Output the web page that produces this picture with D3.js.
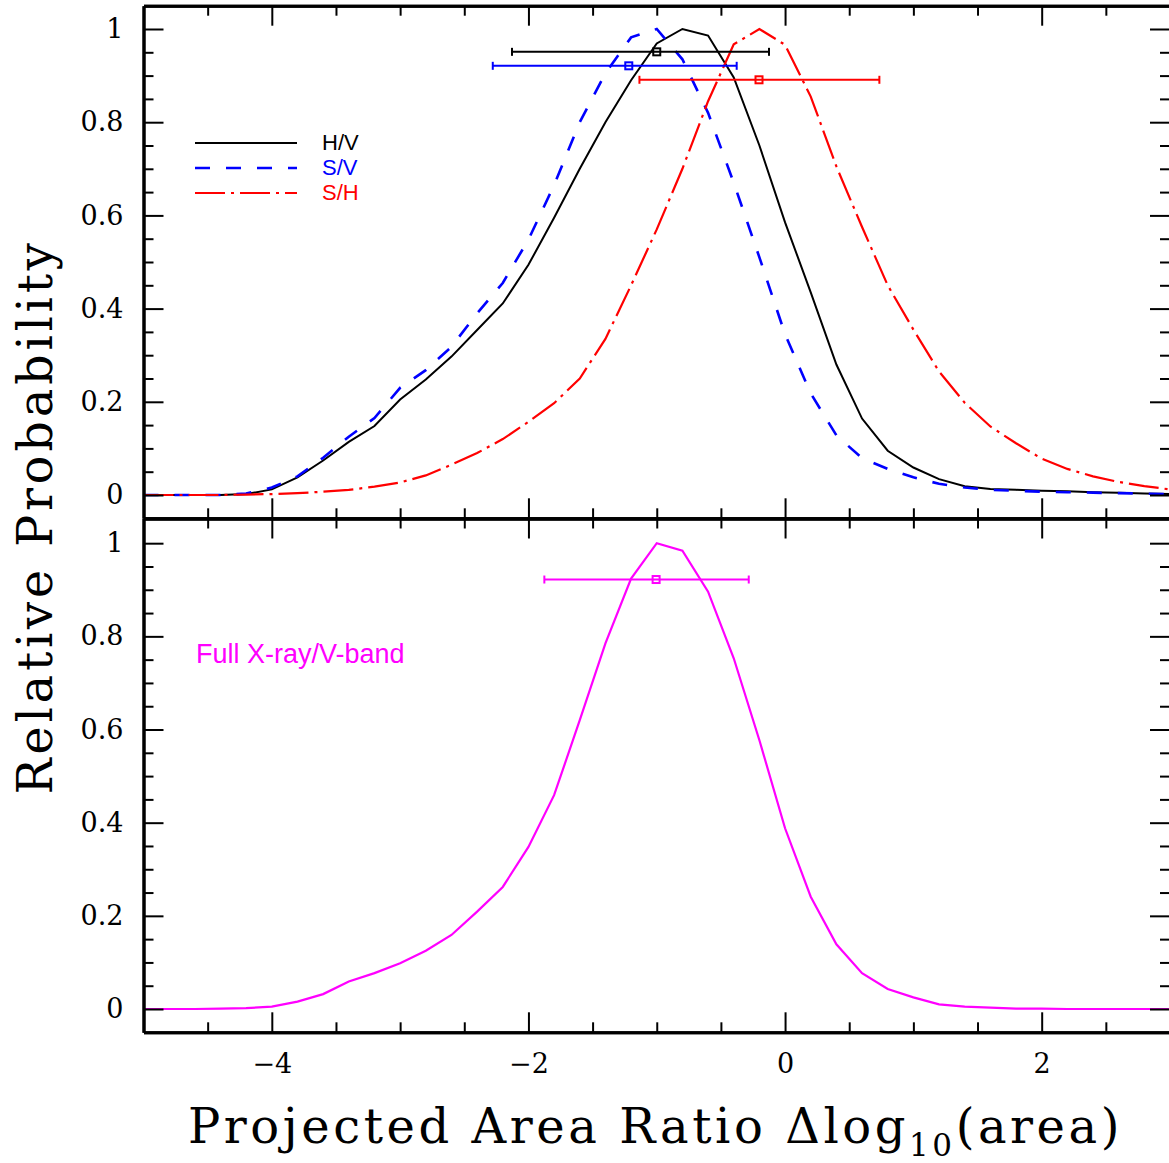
<!DOCTYPE html>
<html>
<head>
<meta charset="utf-8">
<script src="https://cdn.jsdelivr.net/npm/d3@7"></script>
<style>
  body { margin: 0; background: #fff; }
  svg { display: block; }
</style>
</head>
<body>
<script>
// sample grid (log area ratio) and the four probability curves
const xVals = [-5.0, -4.8, -4.6, -4.4, -4.2, -4.0, -3.8, -3.6, -3.4, -3.2, -3.0, -2.8, -2.6, -2.4, -2.2, -2.0,
    -1.8, -1.6, -1.4, -1.2, -1.0, -0.8, -0.6, -0.4, -0.2, 0.0, 0.2, 0.4, 0.6, 0.8, 1.0, 1.2, 1.4, 1.6, 1.8,
    2.0, 2.2, 2.4, 2.6, 2.8, 3.0];

const hvVals = [0, 0, 0, 0, 0.002, 0.012, 0.038, 0.074, 0.114, 0.148, 0.205, 0.248, 0.297, 0.354, 0.411, 0.494,
    0.595, 0.70, 0.80, 0.89, 0.969, 1.0, 0.986, 0.896, 0.75, 0.585, 0.435, 0.28, 0.164, 0.095, 0.059, 0.034,
    0.019, 0.013, 0.011, 0.009, 0.008, 0.006, 0.005, 0.003, 0.002];

const svVals = [0, 0, 0, 0, 0.003, 0.016, 0.04, 0.08, 0.125, 0.165, 0.23, 0.268, 0.318, 0.39, 0.455, 0.548,
    0.665, 0.80, 0.905, 0.982, 1.0, 0.935, 0.82, 0.67, 0.51, 0.345, 0.218, 0.128, 0.079, 0.056, 0.038, 0.024,
    0.016, 0.011, 0.009, 0.007, 0.006, 0.005, 0.004, 0.003, 0.002];

const shVals = [0, 0, 0, 0, 0.001, 0.002, 0.004, 0.007, 0.011, 0.018, 0.027, 0.042, 0.065, 0.09, 0.12, 0.157,
    0.197, 0.25, 0.335, 0.45, 0.57, 0.70, 0.845, 0.967, 1.0, 0.966, 0.855, 0.705, 0.575, 0.45, 0.355, 0.265,
    0.198, 0.147, 0.111, 0.078, 0.056, 0.04, 0.028, 0.019, 0.012];

const fullVals = [0, 0, 0, 0.001, 0.002, 0.005, 0.016, 0.032, 0.059, 0.077, 0.098, 0.125, 0.159, 0.209, 0.262, 0.348,
    0.459, 0.62, 0.785, 0.924, 1.0, 0.984, 0.896, 0.753, 0.577, 0.388, 0.241, 0.139, 0.077, 0.043, 0.025, 0.010,
    0.005, 0.003, 0.001, 0.001, 0, 0, 0, 0, 0];

// error bars: centre, low, high, height
const topErrCenter = [-1.0, -1.218, -0.203];
const topErrLow = [-2.128, -2.278, -1.135];
const topErrHigh = [-0.125, -0.377, 0.735];
const topErrLevel = [0.951, 0.921, 0.891];

const fullErrCenter = [-1.005];
const fullErrLow = [-1.876];
const fullErrHigh = [-0.283];
const fullErrLevel = [0.922];

const legendLabels = ['H/V', 'S/V', 'S/H'];
const fullLabel = 'Full X-ray/V-band';

const xMajorTicks = [-4, -2, 0, 2];
const xMinorTicks = [-4.5, -3.5, -3, -2.5, -1.5, -1, -0.5, 0.5, 1, 1.5, 2.5];
const yMajorTicks = [0, 0.2, 0.4, 0.6, 0.8, 1];
const yMinorTicks = [0.05, 0.1, 0.15, 0.25, 0.3, 0.35, 0.45, 0.5, 0.55, 0.65, 0.7, 0.75, 0.85, 0.9, 0.95];

const width = 1169;
const height = 1163;

const svg = d3.select('body')
    .append('svg')
    .attr('width', width)
    .attr('height', height);

const x = d3.scaleLinear().domain([-5, 3]).range([143.5, 1170]);
const yTop = d3.scaleLinear().domain([-0.05, 1.05]).range([518.3, 5.7]);
const yBot = d3.scaleLinear().domain([-0.05, 1.053]).range([1032.3, 518.5]);

const topSeries = [
    { name: legendLabels[0], values: hvVals, color: '#000000', dash: null, w: 2 },
    { name: legendLabels[1], values: svVals, color: '#0000ff', dash: '15,16', w: 2.6 },
    { name: legendLabels[2], values: shVals, color: '#ff0000', dash: '30,6,3,6', w: 2.2 }
];

const lineFor = y => d3.line()
    .x((d, i) => x(xVals[i]))
    .y(d => y(d));

// curves, top panel
svg.append('g')
    .selectAll('path')
    .data(topSeries)
    .enter()
    .append('path')
    .attr('d', d => lineFor(yTop)(d.values))
    .attr('fill', 'none')
    .attr('stroke', d => d.color)
    .attr('stroke-width', d => d.w)
    .attr('stroke-dasharray', d => d.dash);

// curve, bottom panel
svg.append('path')
    .attr('d', lineFor(yBot)(fullVals))
    .attr('fill', 'none')
    .attr('stroke', '#ff00ff')
    .attr('stroke-width', 2.2);

const errorBars = (y, centers, lows, highs, levels, colors) => {
    const g = svg.append('g');
    centers.forEach((c, i) => {
        const yy = y(levels[i]);
        const b = g.append('g')
            .attr('stroke', colors[i])
            .attr('stroke-width', 2)
            .attr('fill', 'none');
        b.append('line').attr('x1', x(lows[i])).attr('x2', x(highs[i])).attr('y1', yy).attr('y2', yy);
        b.append('line').attr('x1', x(lows[i])).attr('x2', x(lows[i])).attr('y1', yy - 4).attr('y2', yy + 4);
        b.append('line').attr('x1', x(highs[i])).attr('x2', x(highs[i])).attr('y1', yy - 4).attr('y2', yy + 4);
        b.append('rect').attr('x', x(c) - 3.5).attr('y', yy - 3.5).attr('width', 7).attr('height', 7);
    });
};

errorBars(yTop, topErrCenter, topErrLow, topErrHigh, topErrLevel, topSeries.map(s => s.color));
errorBars(yBot, fullErrCenter, fullErrLow, fullErrHigh, fullErrLevel, ['#ff00ff']);

// legend
const legend = svg.append('g');
topSeries.forEach((s, i) => {
    const ly = 143 + i * 25;
    legend.append('line')
        .attr('x1', 195).attr('x2', 297)
        .attr('y1', ly).attr('y2', ly)
        .attr('stroke', s.color)
        .attr('stroke-width', s.w)
        .attr('stroke-dasharray', s.dash);
    legend.append('text')
        .attr('x', 322).attr('y', ly + 7)
        .attr('font-family', 'Liberation Sans, Arial, sans-serif')
        .attr('font-size', 22)
        .attr('fill', s.color)
        .text(s.name);
});

svg.append('text')
    .attr('x', 196).attr('y', 663)
    .attr('font-family', 'Liberation Sans, Arial, sans-serif')
    .attr('font-size', 27)
    .attr('fill', '#ff00ff')
    .text(fullLabel);

// axes on top of the curves
const yFmt = d => String(+d.toFixed(2));

const panelAxes = (y, showX) => {
    const g = svg.append('g');
    const yTopPx = y.range()[1];
    const yBotPx = y.range()[0];
    const left = x.range()[0];
    const right = x.range()[1];

    const add = (axis, tx, ty) => g.append('g')
        .attr('transform', `translate(${tx},${ty})`)
        .call(axis.tickSizeOuter(0));

    add(d3.axisLeft(y).tickValues(yMinorTicks).tickSize(-10).tickFormat(''), left, 0);
    add(d3.axisLeft(y).tickValues(yMajorTicks).tickSize(-20).tickPadding(20).tickFormat(yFmt), left, 0);
    add(d3.axisRight(y).tickValues(yMinorTicks).tickSize(-10).tickFormat(''), right, 0);
    add(d3.axisRight(y).tickValues(yMajorTicks).tickSize(-20).tickFormat(''), right, 0);
    add(d3.axisTop(x).tickValues(xMinorTicks).tickSize(-10).tickFormat(''), 0, yTopPx);
    add(d3.axisTop(x).tickValues(xMajorTicks).tickSize(-20).tickFormat(''), 0, yTopPx);
    add(d3.axisBottom(x).tickValues(xMinorTicks).tickSize(-10).tickFormat(''), 0, yBotPx);
    add(d3.axisBottom(x).tickValues(xMajorTicks).tickSize(-20).tickPadding(22)
        .tickFormat(showX ? d3.format('d') : ''), 0, yBotPx);

    g.selectAll('.domain').attr('stroke-width', 3);
    g.selectAll('.tick line').attr('stroke-width', 2);
    g.selectAll('g')
        .attr('font-family', 'DejaVu Serif, serif')
        .attr('font-size', 27);
    g.selectAll('text').attr('fill', '#000');
};

panelAxes(yTop, false);
panelAxes(yBot, true);

// axis titles, stretched to the reference widths
const fitWidth = (sel, target) => {
    const n = sel.text().length;
    const w = sel.node().getComputedTextLength();
    sel.attr('letter-spacing', (target - w) / n);
};

const xTitle = svg.append('text')
    .attr('x', 188).attr('y', 1143)
    .attr('font-family', 'DejaVu Serif, serif')
    .attr('font-size', 48);
xTitle.append('tspan').text('Projected Area Ratio \u0394log');
xTitle.append('tspan').attr('font-size', 31).attr('dy', 13).text('10');
xTitle.append('tspan').attr('dy', -13).text('(area)');
fitWidth(xTitle, 935);

const yTitle = svg.append('text')
    .attr('transform', 'translate(52,517) rotate(-90)')
    .attr('text-anchor', 'middle')
    .attr('font-family', 'DejaVu Serif, serif')
    .attr('font-size', 48)
    .text('Relative Probability');
fitWidth(yTitle, 555);
</script>
</body>
</html>
